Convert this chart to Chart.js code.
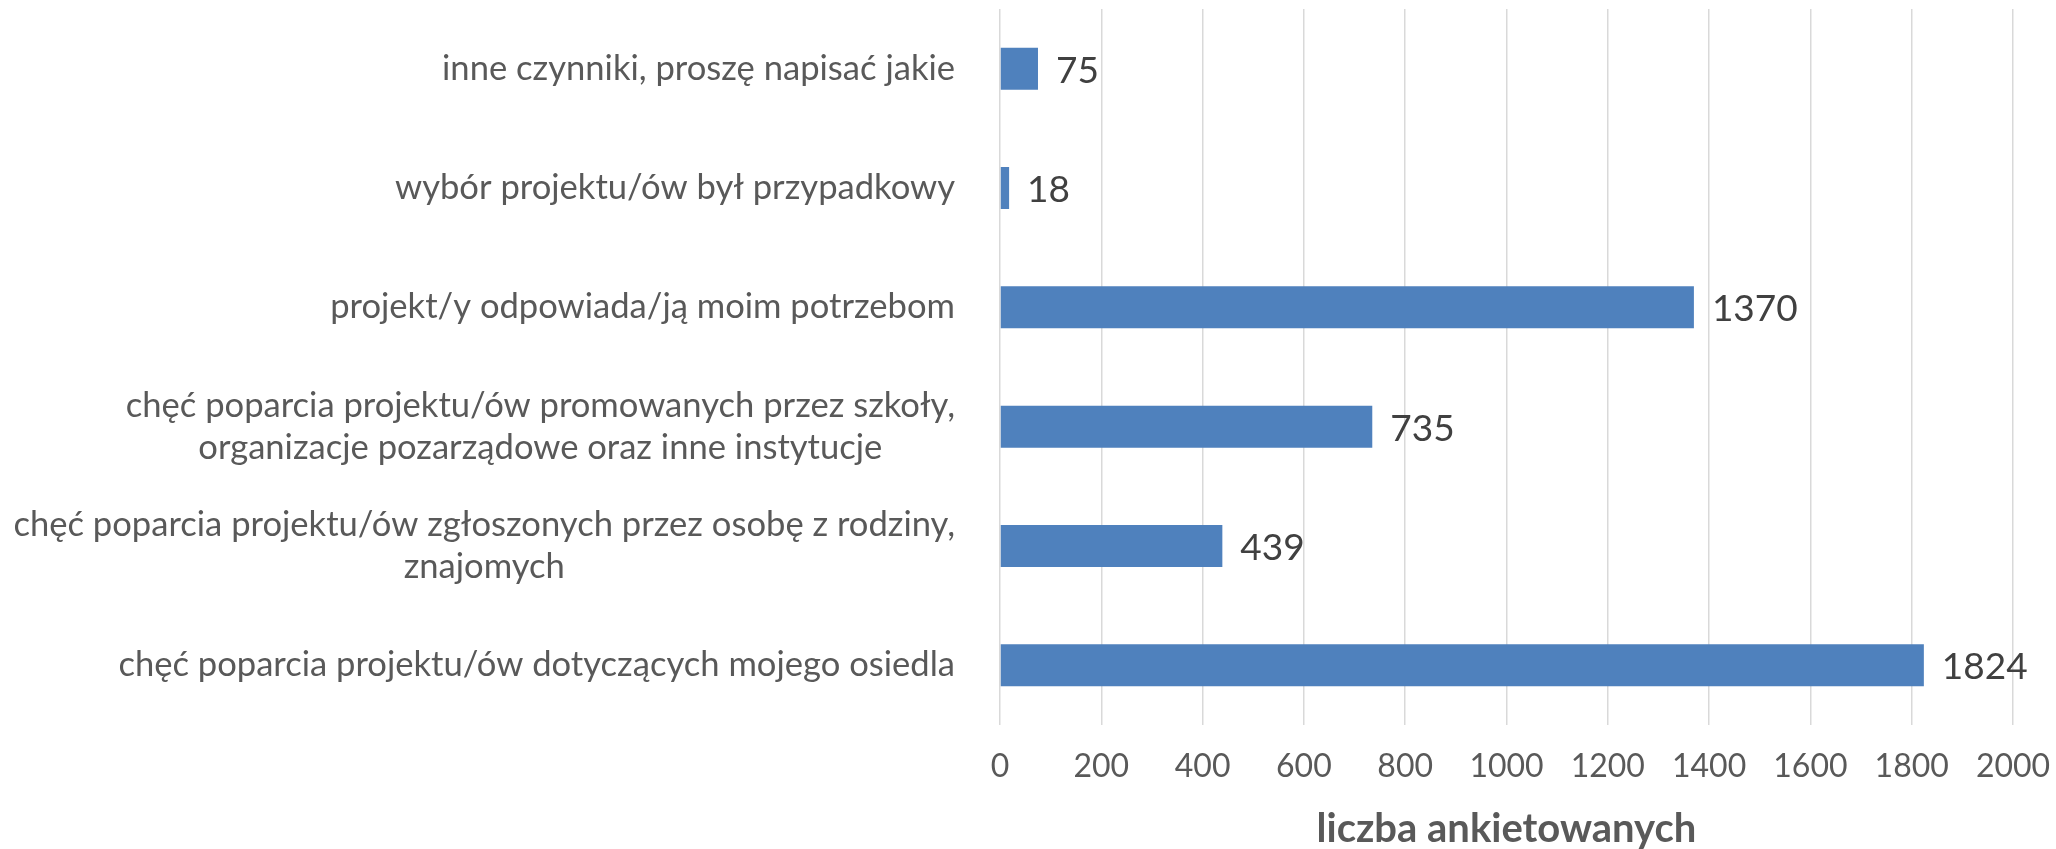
<!DOCTYPE html>
<html lang="pl">
<head>
  <meta charset="UTF-8">
  <title>liczba ankietowanych</title>
  <script src="https://cdn.jsdelivr.net/npm/chart.js"></script>
  <style>
    body { margin: 0; background: #fff; }
    .chart-box { width: 2056px; height: 849px; }
  </style>
</head>
<body>
  <div class="chart-box">
    <canvas id="chartPowody" width="2056" height="849"></canvas>
  </div>

  <script>
    // kategorie od góry do dołu, linie tak jak w oryginale
    const categories = [
      ['inne czynniki, proszę napisać jakie'],
      ['wybór projektu/ów był przypadkowy'],
      ['projekt/y odpowiada/ją moim potrzebom'],
      ['chęć poparcia projektu/ów promowanych przez szkoły,', 'organizacje pozarządowe oraz inne instytucje'],
      ['chęć poparcia projektu/ów zgłoszonych przez osobę z rodziny,', 'znajomych'],
      ['chęć poparcia projektu/ów dotyczących mojego osiedla']
    ];
    const counts = [75, 18, 1370, 735, 439, 1824];
    const xTicks = [0, 200, 400, 600, 800, 1000, 1200, 1400, 1600, 1800, 2000];
    const axisTitle = 'liczba ankietowanych';

    const FONT = 'Lato, "Open Sans", sans-serif';

    // etykiety kategorii: blok wyrównany do prawej, linie wyśrodkowane względem siebie
    const categoryLabels = {
      id: 'categoryLabels',
      afterDraw(chart) {
        const ctx = chart.ctx;
        const y = chart.scales.y;
        const right = y.right - 45;
        const lineH = 42;
        ctx.save();
        ctx.font = '34.6px ' + FONT;
        ctx.fillStyle = '#595959';
        ctx.textAlign = 'center';
        ctx.textBaseline = 'middle';
        categories.forEach((lines, i) => {
          const w = Math.max(...lines.map(l => ctx.measureText(l).width));
          const cx = right - w / 2;
          const yc = y.getPixelForValue(i);
          lines.forEach((l, j) => {
            ctx.fillText(l, cx, yc + (j - (lines.length - 1) / 2) * lineH);
          });
        });
        ctx.restore();
      }
    };

    // wartości przy końcach słupków
    const valueLabels = {
      id: 'valueLabels',
      afterDatasetsDraw(chart) {
        const ctx = chart.ctx;
        const meta = chart.getDatasetMeta(0);
        ctx.save();
        ctx.font = '37px ' + FONT;
        ctx.fillStyle = '#404040';
        ctx.textAlign = 'left';
        ctx.textBaseline = 'middle';
        meta.data.forEach((bar, i) => {
          ctx.fillText(String(counts[i]), bar.x + 18, bar.y + 2);
        });
        ctx.restore();
      }
    };

    function draw() {
      new Chart(document.getElementById('chartPowody'), {
        type: 'bar',
        data: {
          labels: categories.map(c => c.join(' ')),
          datasets: [{
            data: counts,
            backgroundColor: '#4f81bd',
            borderWidth: 0,
            barPercentage: 0.352,
            categoryPercentage: 1
          }]
        },
        options: {
          indexAxis: 'y',
          responsive: false,
          animation: false,
          layout: { padding: { top: 9, right: 43, left: 0, bottom: 0 } },
          plugins: {
            legend: { display: false },
            tooltip: { enabled: false }
          },
          scales: {
            x: {
              min: xTicks[0],
              max: xTicks[xTicks.length - 1],
              afterBuildTicks: scale => { scale.ticks = xTicks.map(v => ({ value: v })); },
              afterFit: scale => {
                scale.height = 124;
                scale.paddingLeft = 0;
                scale.paddingRight = 0;
              },
              grid: { color: '#d9d9d9', lineWidth: 1.5, drawTicks: false },
              border: { display: false },
              ticks: {
                color: '#595959',
                font: { family: FONT, size: 32 },
                padding: 22,
                maxRotation: 0,
                callback: v => String(v)
              },
              title: {
                display: true,
                text: axisTitle,
                color: '#595959',
                font: { family: FONT, size: 40, weight: 'bold', lineHeight: 1 },
                padding: { top: 0, bottom: 0 }
              }
            },
            y: {
              afterFit: scale => { scale.width = 1000; },
              grid: { display: false },
              border: { display: false },
              ticks: { display: false }
            }
          }
        },
        plugins: [categoryLabels, valueLabels]
      });
    }

    Promise.all([
      document.fonts.load('32px Lato'),
      document.fonts.load('bold 32px Lato')
    ]).then(draw, draw);
  </script>
</body>
</html>
